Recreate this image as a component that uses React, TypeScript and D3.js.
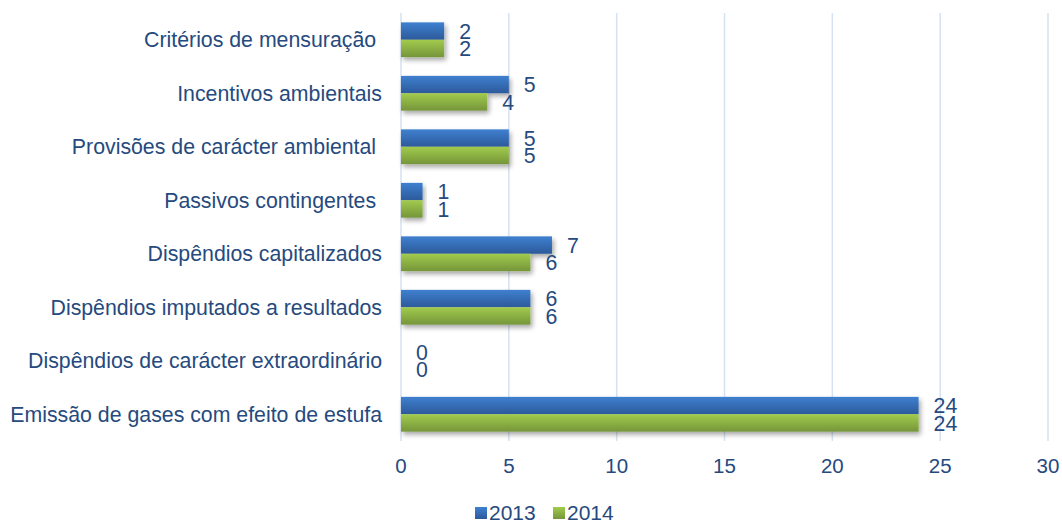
import React from "react";
import * as d3 from "d3";

const categories = [
  "Critérios de mensuração ",
  "Incentivos ambientais",
  "Provisões de carácter ambiental ",
  "Passivos contingentes ",
  "Dispêndios capitalizados",
  "Dispêndios imputados a resultados",
  "Dispêndios de carácter extraordinário",
  "Emissão de gases com efeito de estufa",
];
const values2013 = [2, 5, 5, 1, 7, 6, 0, 24];
const values2014 = [2, 4, 5, 1, 6, 6, 0, 24];
const seriesNames = ["2013", "2014"];
const xTicks = [0, 5, 10, 15, 20, 25, 30];

const W = 1062;
const H = 523;
const TEXT = "#264a7e";
const FONT = "'Liberation Sans', Arial, sans-serif";

export default function App() {
  const x = d3.scaleLinear().domain([0, 30]).range([401, 1048]);
  const y = d3
    .scaleBand<string>()
    .domain(categories)
    .range([13, 441])
    .paddingInner(0.35)
    .paddingOuter(0.175);
  const bw = y.bandwidth();
  const half = bw / 2;
  const series = [
    { name: seriesNames[0], values: values2013, fill: "url(#gBlue)" },
    { name: seriesNames[1], values: values2014, fill: "url(#gGreen)" },
  ];

  return (
    <svg
      width={W}
      height={H}
      style={{ position: "absolute", left: 0, top: 0, background: "#fff" }}
      fontFamily={FONT}
    >
      <defs>
        <linearGradient id="gBlue" x1="0" y1="0" x2="0" y2="1">
          <stop offset="0" stopColor="#3f80d0" />
          <stop offset="1" stopColor="#2c5a9a" />
        </linearGradient>
        <linearGradient id="gGreen" x1="0" y1="0" x2="0" y2="1">
          <stop offset="0" stopColor="#a2cb4d" />
          <stop offset="1" stopColor="#75953a" />
        </linearGradient>
        <filter id="shadow" x="-10%" y="-30%" width="130%" height="180%">
          <feGaussianBlur in="SourceAlpha" stdDeviation="2.5" />
          <feOffset dx="2" dy="3" result="b" />
          <feComponentTransfer>
            <feFuncA type="linear" slope="0.35" />
          </feComponentTransfer>
          <feMerge>
            <feMergeNode />
            <feMergeNode in="SourceGraphic" />
          </feMerge>
        </filter>
      </defs>

      {xTicks.map((t) => (
        <line
          key={"g" + t}
          x1={x(t)}
          x2={x(t)}
          y1={13}
          y2={441}
          stroke="#d5e2f1"
          strokeWidth={1.5}
        />
      ))}

      {categories.map((c, i) => (
        <g key={c} filter="url(#shadow)">
          {series.map((s, j) =>
            s.values[i] > 0 ? (
              <rect
                key={s.name}
                x={x(0)}
                y={(y(c) as number) + j * half}
                width={x(s.values[i]) - x(0)}
                height={half}
                fill={s.fill}
              />
            ) : null
          )}
        </g>
      ))}

      {categories.map((c, i) =>
        series.map((s, j) => (
          <text
            key={c + s.name}
            x={x(s.values[i]) + 15}
            y={(y(c) as number) + j * half + half / 2}
            dy="0.36em"
            fontSize={21.3}
            fill={TEXT}
          >
            {s.values[i]}
          </text>
        ))
      )}

      {categories.map((c) => (
        <text
          key={"l" + c}
          x={382}
          y={(y(c) as number) + bw / 2}
          dy="0.36em"
          textAnchor="end"
          fontSize={21.3}
          fill={TEXT}
          style={{ whiteSpace: "pre" }}
        >
          {c}
        </text>
      ))}

      {xTicks.map((t) => (
        <text
          key={"t" + t}
          x={x(t)}
          y={473}
          textAnchor="middle"
          fontSize={20.5}
          fill={TEXT}
        >
          {t}
        </text>
      ))}

      {series.map((s, j) => {
        const lx = j === 0 ? 475 : 553;
        return (
          <g key={"lg" + s.name}>
            <rect x={lx} y={507} width={12} height={12} fill={s.fill} />
            <text x={lx + 14} y={520} fontSize={21} fill={TEXT}>
              {s.name}
            </text>
          </g>
        );
      })}
    </svg>
  );
}
